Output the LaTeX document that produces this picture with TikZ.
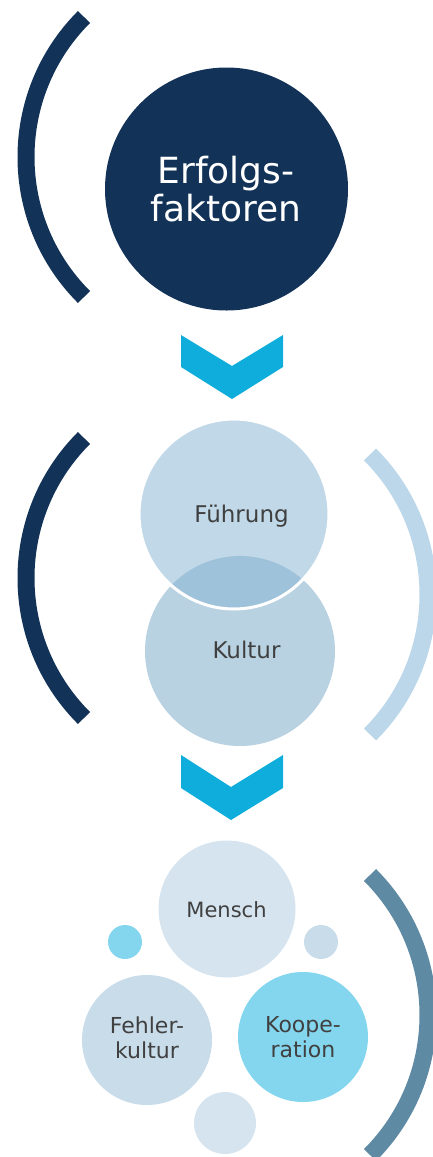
\documentclass[tikz,border=0pt]{standalone}
\usepackage{fontspec}
\setmainfont{DejaVu Sans}
\definecolor{navy}{RGB}{18,50,87}
\definecolor{chev}{RGB}{14,173,220}
\definecolor{lightarc}{RGB}{188,215,234}
\definecolor{steelarc}{RGB}{95,138,163}
\definecolor{fuehrungc}{RGB}{134,180,211}
\definecolor{kulturc}{RGB}{185,210,226}
\definecolor{palec}{RGB}{213,228,239}
\definecolor{palec2}{RGB}{200,220,234}
\definecolor{cyanc}{RGB}{132,214,238}
\definecolor{textgray}{RGB}{64,64,64}
\begin{document}
\begin{tikzpicture}[x=1pt,y=-1pt,
  arcline/.style={line width=17pt},
  bubble/.style={circle, inner sep=0pt, draw=none},
  lbl/.style={inner sep=0pt, text=textgray, align=center},
  chevshape/.style={fill=chev}]
\useasboundingbox (0,0) rectangle (433,1157);

% ---------- top section ----------
\coordinate (a1) at (224,157);
\draw[arcline,navy] (a1) ++(135:198) arc[start angle=135,end angle=225,radius=198];
\node[bubble, fill=navy, minimum size=243pt] (erfolg) at (226.5,189) {};
\node[lbl, text=white, font=\fontsize{36}{38}\selectfont] (erfolgtxt) at (226,189) {Erfolgs-\\faktoren};

% chevron 1
\fill[chevshape] (181,335) -- (232,366) -- (283,335) -- (283,367) -- (232,399) -- (181,367) -- cycle;

% ---------- middle section ----------
\coordinate (a2) at (224,578);
\draw[arcline,navy] (a2) ++(135:198) arc[start angle=135,end angle=225,radius=198];
\coordinate (a3) at (230,594.5);
\draw[arcline,lightarc] (a3) ++(-45:198) arc[start angle=-45,end angle=45,radius=198];

\node[bubble, fill=kulturc, minimum size=190pt] (kultur) at (240,651) {};
\node[bubble, fill=fuehrungc, fill opacity=0.52, draw=white, draw opacity=1, line width=3pt, minimum size=190pt] (fuehrung) at (234,514) {};
\node[lbl, anchor=base, font=\fontsize{23}{27}\selectfont] (fuehrungtxt) at (241.5,522) {Führung};
\node[lbl, anchor=base, font=\fontsize{23}{27}\selectfont] (kulturtxt) at (246.5,658) {Kultur};

% chevron 2
\fill[chevshape] (181,755) -- (231,787) -- (283,755) -- (283,788) -- (231,820) -- (181,788) -- cycle;

% ---------- bottom section ----------
\coordinate (a4) at (230,1015);
\draw[arcline,steelarc] (a4) ++(-45:198) arc[start angle=-45,end angle=45,radius=198];

\node[bubble, fill=palec, minimum size=137pt] (mensch) at (227,909) {};
\node[bubble, fill=cyanc, minimum size=34pt] (dotl) at (125,942) {};
\node[bubble, fill=palec2, minimum size=34pt] (dotr) at (321,942) {};
\node[bubble, fill=palec2, minimum size=130pt] (fehler) at (147,1040) {};
\node[bubble, fill=cyanc, minimum size=130pt] (koop) at (303,1037) {};
\node[bubble, fill=palec, minimum size=62pt] (dotb) at (225,1123) {};

\node[lbl, anchor=base, font=\fontsize{21}{25}\selectfont] (menschtxt) at (226.5,917) {Mensch};
\node[lbl, font=\fontsize{22}{25}\selectfont] (fehlertxt) at (147,1038) {Fehler-\\kultur};
\node[lbl, font=\fontsize{22}{25}\selectfont] (kooptxt) at (303,1037.5) {Koope-\\ration};
\end{tikzpicture}
\end{document}
